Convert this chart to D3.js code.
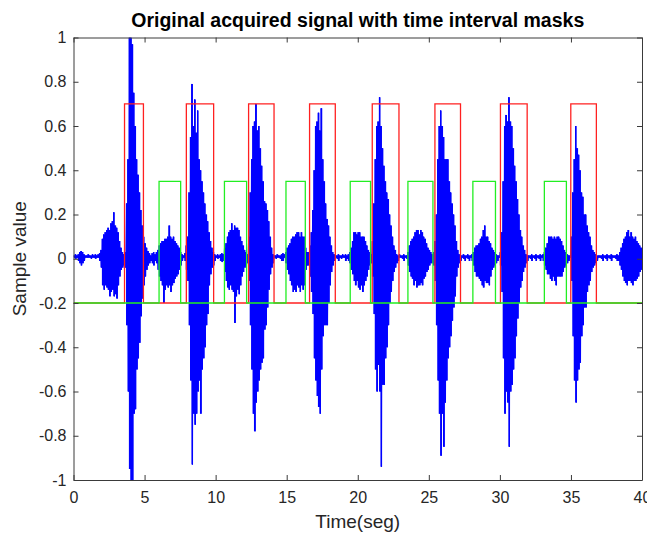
<!DOCTYPE html>
<html>
<head>
<meta charset="utf-8">
<script src="https://cdn.jsdelivr.net/npm/d3@7"></script>
<style>
  html, body { margin: 0; padding: 0; background: #fff; }
  svg { display: block; }
  text { font-family: "Liberation Sans", Arial, Helvetica, sans-serif; }
</style>
</head>
<body>
<svg id="chart" width="647" height="536"></svg>
<script>
// Acquired signal, summarised as its upper and lower envelope every 0.1 s
const sampleStep = 0.1;
const signalHigh = [
  .015,.02,.015,.02,.03,.035,.03,.02,.015,.015,
  .02,.015,.015,.02,.015,.02,.015,.02,.025,.04,
  .09,.11,.12,.13,.14,.13,.16,.17,.21,.15,
  .14,.12,.08,.05,.03,.02,.03,.25,.45,1.0,
  1.0,.97,.75,.6,.45,.38,.3,.22,.15,.1,
  .07,.05,.035,.025,.015,.025,.03,.02,.03,.04,
  .06,.07,.08,.08,.09,.09,.1,.15,.1,.09,
  .1,.08,.07,.06,.05,.03,.02,.015,.025,.06,
  .1,.3,.55,.79,.6,.72,.57,.67,.45,.4,
  .35,.3,.25,.2,.17,.12,.08,.05,.03,.02,
  .015,.02,.015,.02,.025,.02,.05,.07,.1,.12,
  .13,.16,.13,.15,.14,.14,.13,.1,.08,.06,
  .04,.03,.02,.1,.3,.45,.6,.62,.7,.58,
  .6,.5,.42,.35,.26,.25,.22,.17,.1,.05,
  .02,.015,.015,.02,.015,.015,.02,.025,.02,.03,
  .05,.06,.07,.09,.1,.1,.11,.12,.12,.1,
  .12,.1,.1,.05,.03,.03,.06,.12,.22,.4,
  .6,.62,.66,.58,.68,.45,.35,.25,.18,.15,
  .1,.06,.03,.02,.015,.015,.02,.015,.015,.02,
  .015,.02,.015,.02,.03,.05,.08,.12,.12,.11,
  .12,.12,.1,.1,.1,.08,.06,.04,.03,.02,
  .08,.25,.45,.6,.62,.73,.6,.5,.42,.35,
  .3,.27,.2,.15,.1,.06,.04,.02,.015,.02,
  .015,.015,.02,.015,.015,.03,.06,.08,.09,.1,
  .12,.13,.13,.11,.13,.12,.1,.09,.07,.05,
  .04,.03,.02,.03,.08,.2,.45,.6,.67,.6,
  .55,.45,.45,.45,.35,.3,.25,.2,.15,.08,
  .04,.02,.015,.015,.02,.015,.015,.02,.015,.015,
  .02,.03,.05,.06,.06,.07,.09,.1,.13,.15,
  .1,.1,.08,.07,.05,.04,.03,.02,.015,.015,
  .03,.12,.35,.6,.65,.62,.73,.62,.6,.5,
  .42,.35,.27,.2,.13,.1,.06,.04,.02,.015,
  .015,.015,.02,.015,.015,.02,.015,.015,.02,.015,
  .02,.03,.05,.07,.1,.1,.1,.09,.1,.09,
  .1,.1,.09,.08,.06,.04,.03,.02,.015,.015,
  .1,.3,.45,.6,.5,.47,.4,.3,.28,.2,
  .2,.15,.12,.1,.06,.04,.03,.02,.015,.015,
  .015,.015,.02,.015,.015,.02,.015,.015,.02,.015,
  .015,.015,.02,.015,.03,.05,.07,.09,.1,.12,
  .13,.1,.12,.1,.09,.1,.08,.07,.06,.05
];
const signalLow = [
  .005,0,.005,-.01,-.02,-.03,-.02,-.01,.005,.005,
  .005,.005,0,.005,.005,0,.005,.005,-.01,-.04,
  -.12,-.14,-.12,-.13,-.14,-.17,-.15,-.14,-.17,-.16,
  -.18,-.12,-.08,-.05,-.04,-.03,-.04,-.3,-.6,-.95,
  -1.0,-1.0,-.7,-.68,-.5,-.45,-.38,-.26,-.18,-.12,
  -.08,-.05,-.03,-.02,-.01,-.02,-.03,-.01,-.02,-.05,
  -.08,-.1,-.12,-.2,-.14,-.12,-.13,-.12,-.15,-.12,
  -.11,-.09,-.08,-.07,-.05,-.03,-.01,.005,-.01,-.05,
  -.1,-.3,-.55,-.93,-.7,-.75,-.7,-.6,-.55,-.7,
  -.5,-.45,-.4,-.3,-.25,-.12,-.07,-.04,-.03,-.01,
  .005,0,.005,-.01,-.015,-.01,-.06,-.1,-.13,-.14,
  -.12,-.14,-.15,-.29,-.17,-.14,-.16,-.12,-.08,-.06,
  -.04,-.03,-.02,-.1,-.3,-.5,-.7,-.78,-.65,-.6,
  -.55,-.5,-.47,-.45,-.32,-.3,-.22,-.14,-.07,-.04,
  -.02,.005,0,.005,.005,0,-.01,-.01,.005,-.02,
  -.05,-.07,-.1,-.12,-.15,-.14,-.15,-.12,-.13,-.15,
  -.12,-.14,-.12,-.05,-.03,-.03,-.08,-.15,-.25,-.45,
  -.55,-.62,-.67,-.7,-.5,-.35,-.3,-.3,-.3,-.2,
  -.12,-.06,-.03,-.01,.005,0,-.01,.005,0,.005,
  .005,-.01,0,-.01,-.02,-.05,-.07,-.1,-.12,-.1,
  -.13,-.14,-.12,-.15,-.12,-.1,-.08,-.05,-.03,-.02,
  -.08,-.25,-.5,-.6,-.48,-.6,-.94,-.57,-.57,-.45,
  -.4,-.3,-.2,-.15,-.1,-.06,-.04,-.02,-.01,.005,
  .005,0,-.01,.005,0,-.03,-.06,-.08,-.09,-.12,
  -.1,-.13,-.12,-.12,-.11,-.12,-.09,-.08,-.06,-.05,
  -.03,-.02,-.02,-.03,-.1,-.3,-.55,-.7,-.89,-.7,
  -.85,-.65,-.55,-.45,-.4,-.35,-.28,-.22,-.17,-.08,
  -.04,-.02,-.01,.005,0,-.01,.005,0,-.01,.005,
  -.01,-.03,-.06,-.08,-.08,-.09,-.1,-.12,-.13,-.1,
  -.11,-.11,-.12,-.08,-.05,-.04,-.03,-.02,-.01,.005,
  -.03,-.15,-.45,-.7,-.6,-.65,-.85,-.6,-.57,-.5,
  -.45,-.35,-.27,-.2,-.13,-.1,-.06,-.04,-.02,-.01,
  .005,0,-.01,.005,0,-.01,.005,0,-.01,.005,
  -.01,-.03,-.05,-.07,-.07,-.09,-.1,-.08,-.1,-.12,
  -.08,-.08,-.08,-.08,-.06,-.04,-.03,-.02,-.01,.005,
  -.1,-.35,-.55,-.65,-.55,-.5,-.47,-.35,-.3,-.22,
  -.22,-.15,-.12,-.1,-.06,-.04,-.03,-.02,-.01,.005,
  .005,0,-.01,.005,0,-.01,.005,0,-.01,.005,
  .005,0,-.01,-.01,-.03,-.05,-.08,-.1,-.11,-.12,
  -.1,-.1,-.11,-.12,-.1,-.1,-.09,-.08,-.06,-.05
];

// Time interval masks (seconds) and their levels
const redStart   = [3.59, 7.94, 12.32, 16.61, 21.02, 25.43, 30.04, 34.99];
const redEnd     = [4.92, 9.86, 14.11, 18.42, 22.90, 27.23, 31.92, 36.79];
const greenStart = [6.02, 10.62, 14.95, 19.47, 23.53, 28.10, 33.13];
const greenEnd   = [7.54, 12.18, 16.31, 20.90, 25.29, 29.69, 34.68];
const maskBase = -0.2;
const redLevel = 0.7;
const greenLevel = 0.35;

// Axes
const xDomain = [0, 40];
const yDomain = [-1, 1];
const xTicks = [0, 5, 10, 15, 20, 25, 30, 35, 40];
const yTicks = [-1, -0.8, -0.6, -0.4, -0.2, 0, 0.2, 0.4, 0.6, 0.8, 1];
const titleText = "Original acquired signal with time interval masks";
const xLabelText = "Time(seg)";
const yLabelText = "Sample value";

const plot = { left: 73.5, right: 642, top: 37.5, bottom: 480 };
const axisColor = "#3a3a3a";

const svg = d3.select("#chart");
const x = d3.scaleLinear().domain(xDomain).range([plot.left, plot.right]);
const y = d3.scaleLinear().domain(yDomain).range([plot.bottom, plot.top]);

svg.append("defs").append("clipPath").attr("id", "plotClip")
  .append("rect")
  .attr("x", plot.left).attr("y", plot.top)
  .attr("width", plot.right - plot.left).attr("height", plot.bottom - plot.top);

const layer = svg.append("g").attr("clip-path", "url(#plotClip)");

// Signal: one vertical stroke per time step, spanning its envelope,
// joined by the zig-zag that the oscillation traces
const barPath = d3.path();
signalHigh.forEach((h, i) => {
  const px = x(i * sampleStep + sampleStep / 2);
  barPath.moveTo(px, y(h));
  barPath.lineTo(px, y(signalLow[i]));
});
layer.append("path")
  .attr("d", barPath.toString())
  .attr("fill", "none")
  .attr("stroke", "#0000ff")
  .attr("stroke-width", 1.5);

const signalPoints = [];
signalHigh.forEach((h, i) => {
  const t = i * sampleStep;
  signalPoints.push([t + sampleStep * 0.25, h]);
  signalPoints.push([t + sampleStep * 0.75, signalLow[i]]);
});
const line = d3.line().x(d => x(d[0])).y(d => y(d[1]));

layer.append("path")
  .attr("d", line(signalPoints))
  .attr("fill", "none")
  .attr("stroke", "#0000ff")
  .attr("stroke-width", 1);

// Rectangular mask signals
function maskPoints(starts, ends, level) {
  const pts = [[xDomain[0], maskBase]];
  starts.forEach((s, i) => {
    pts.push([s, maskBase], [s, level], [ends[i], level], [ends[i], maskBase]);
  });
  pts.push([xDomain[1], maskBase]);
  return pts;
}

layer.append("path")
  .attr("d", line(maskPoints(redStart, redEnd, redLevel)))
  .attr("fill", "none")
  .attr("stroke", "#ff2020")
  .attr("stroke-width", 1.3);

layer.append("path")
  .attr("d", line(maskPoints(greenStart, greenEnd, greenLevel)))
  .attr("fill", "none")
  .attr("stroke", "#22ee22")
  .attr("stroke-width", 1.3);

// Axis box with inward ticks on all four sides
const tickLen = 5;
const fmt = v => (Math.round(v * 10) / 10).toString();

const bottomAxis = d3.axisBottom(x).tickValues(xTicks).tickSizeInner(-tickLen).tickSizeOuter(0).tickPadding(12).tickFormat(fmt);
const topAxis = d3.axisTop(x).tickValues(xTicks).tickSizeInner(-tickLen).tickSizeOuter(0).tickFormat("");
const leftAxis = d3.axisLeft(y).tickValues(yTicks).tickSizeInner(-tickLen).tickSizeOuter(0).tickPadding(7).tickFormat(fmt);
const rightAxis = d3.axisRight(y).tickValues(yTicks).tickSizeInner(-tickLen).tickSizeOuter(0).tickFormat("");

function styleAxis(g) {
  g.select(".domain").attr("stroke", axisColor).attr("stroke-width", 1);
  g.selectAll(".tick line").attr("stroke", axisColor).attr("stroke-width", 1);
  g.selectAll(".tick text")
    .attr("fill", "#262626")
    .attr("font-size", 16)
    .attr("font-family", "'Liberation Sans', Arial, sans-serif");
}

svg.append("g").attr("transform", `translate(0,${plot.bottom})`).call(bottomAxis).call(styleAxis);
svg.append("g").attr("transform", `translate(0,${plot.top})`).call(topAxis).call(styleAxis);
svg.append("g").attr("transform", `translate(${plot.left},0)`).call(leftAxis).call(styleAxis);
svg.append("g").attr("transform", `translate(${plot.right},0)`).call(rightAxis).call(styleAxis);

// Title and axis labels
const cx = (plot.left + plot.right) / 2;
svg.append("text")
  .attr("x", cx).attr("y", 27)
  .attr("text-anchor", "middle")
  .attr("font-size", 19.5).attr("font-weight", "bold")
  .attr("fill", "#000")
  .text(titleText);

svg.append("text")
  .attr("x", cx).attr("y", 528)
  .attr("text-anchor", "middle")
  .attr("font-size", 19)
  .attr("fill", "#262626")
  .text(xLabelText);

svg.append("text")
  .attr("transform", `translate(26,${(plot.top + plot.bottom) / 2}) rotate(-90)`)
  .attr("text-anchor", "middle")
  .attr("font-size", 19)
  .attr("fill", "#262626")
  .text(yLabelText);
</script>
</body>
</html>
